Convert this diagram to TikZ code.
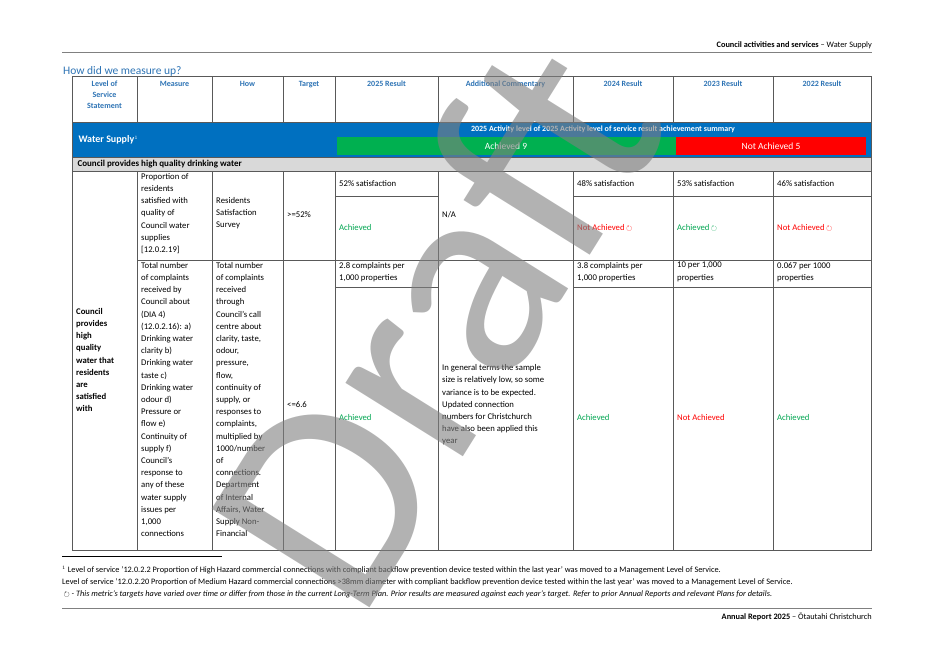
\documentclass[tikz,border=0pt]{standalone}
\usepackage{fontspec}
\usepackage{amssymb}
\setmainfont{Carlito}
\definecolor{hdblue}{HTML}{2E74B5}
\definecolor{bandblue}{HTML}{0070C0}
\definecolor{achgreen}{HTML}{00B050}
\definecolor{okgreen}{HTML}{00A651}
\tikzstyle{cell} = [anchor=north west, inner sep=2pt, align=left, font=\fontsize{8.7}{12.2}\selectfont]
\tikzstyle{head} = [anchor=north, inner sep=2pt, align=center, font=\fontsize{8}{11}\selectfont\bfseries, text=hdblue]
\tikzstyle{note} = [anchor=west, inner sep=0, font=\fontsize{8.3}{9}\selectfont]
\tikzstyle{grid} = [gray!70!black, line width=0.4pt]
\newcommand{\vary}{\,{\scriptsize$\circlearrowright$}}
\begin{document}
\begin{tikzpicture}[x=1pt,y=-1pt]
  \useasboundingbox (0,0) rectangle (934,661);
  \fill[white] (0,0) rectangle (934,661);
  % page header
  \node[anchor=south east, inner sep=0, font=\fontsize{8.3}{9}\selectfont] (pghead) at (872,49) {\textbf{Council activities and services} -- Water Supply};
  \draw[gray, line width=0.8pt] (62,52) -- (872,52);
  \node[anchor=south west, inner sep=0, font=\fontsize{11.5}{12}\selectfont, text=hdblue] (title) at (63,77) {How did we measure up?};
  % band
  \fill[bandblue] (72,122) rectangle (871,157);
  \fill[achgreen] (337,137) rectangle (676,155);
  \fill[red] (676,137) rectangle (866,155);
  \node[font=\fontsize{8}{9}\selectfont\bfseries, text=white] (summary) at (603,129.5) {2025 Activity level of 2025 Activity level of service result achievement summary};
  \node[font=\fontsize{9.5}{10}\selectfont, text=white] (ach) at (506,146) {Achieved 9};
  \node[font=\fontsize{9.5}{10}\selectfont, text=white] (notach) at (771,146) {Not Achieved 5};
  \node[anchor=west, font=\fontsize{10}{10}\selectfont\bfseries, text=white] (ws) at (75,140) {Water Supply$^{\scriptscriptstyle 1}$};
  \fill[gray!30] (72,157) rectangle (871,171);
  \node[anchor=west, font=\fontsize{9}{10}\selectfont\bfseries] (sect) at (74,164) {Council provides high quality drinking water};
  % grid
  \draw[grid] (72,76) rectangle (871,550);
  \foreach \x in {137,212,283,335,438,573,673,773} \draw[grid] (\x,76) -- (\x,122);
  \foreach \x in {137,212,283,335,438,573,673,773} \draw[grid] (\x,171) -- (\x,550);
  \draw[grid] (72,122) -- (871,122);
  \draw[grid] (72,157) -- (871,157);
  \draw[grid] (72,171) -- (871,171);
  \draw[grid] (137,260) -- (871,260);
  \draw[grid] (335,196) -- (438,196);
  \draw[grid] (573,196) -- (871,196);
  \draw[grid] (335,287) -- (438,287);
  \draw[grid] (573,287) -- (871,287);
  % header texts
  \node[head] (h1) at (104.5,79) {Level of\\Service\\Statement};
  \node[head] (h2) at (174.5,79) {Measure};
  \node[head] (h3) at (247.5,79) {How};
  \node[head] (h4) at (309,79) {Target};
  \node[head] (h5) at (386.5,79) {2025 Result};
  \node[head] (h6) at (505.5,79) {Additional Commentary};
  \node[head] (h7) at (623,79) {2024 Result};
  \node[head] (h8) at (723,79) {2023 Result};
  \node[head] (h9) at (822,79) {2022 Result};
  % row 1
  \node[cell] (m1) at (139,171) {Proportion of\\residents\\satisfied with\\quality of\\Council water\\supplies\\{[12.0.2.19]}};
  \node[cell] (w1) at (214,195) {Residents\\Satisfaction\\Survey};
  \node[cell, anchor=west] (t1) at (285,215) {>=52\%};
  \node[cell, anchor=west] (r1a) at (337,184) {52\% satisfaction};
  \node[cell, anchor=west, text=okgreen] (r1b) at (337,228) {Achieved};
  \node[cell, anchor=west] (c1) at (440,215) {N/A};
  \node[cell, anchor=west] (p1a) at (575,184) {48\% satisfaction};
  \node[cell, anchor=west, text=red] (p1b) at (575,228) {Not Achieved\vary};
  \node[cell, anchor=west] (q1a) at (675,184) {53\% satisfaction};
  \node[cell, anchor=west, text=okgreen] (q1b) at (675,228) {Achieved\vary};
  \node[cell, anchor=west] (s1a) at (775,184) {46\% satisfaction};
  \node[cell, anchor=west, text=red] (s1b) at (775,228) {Not Achieved\vary};
  % row 2
  \node[cell, anchor=west, font=\fontsize{8.7}{12.2}\selectfont\bfseries] (lvl) at (74,360) {Council\\provides\\high\\quality\\water that\\residents\\are\\satisfied\\with};
  \node[cell] (m2) at (139,260) {Total number\\of complaints\\received by\\Council about\\(DIA 4)\\(12.0.2.16): a)\\Drinking water\\clarity b)\\Drinking water\\taste c)\\Drinking water\\odour d)\\Pressure or\\flow e)\\Continuity of\\supply f)\\Council's\\response to\\any of these\\water supply\\issues per\\1,000\\connections};
  \node[cell] (w2) at (214,260) {Total number\\of complaints\\received\\through\\Council's call\\centre about\\clarity, taste,\\odour,\\pressure,\\flow,\\continuity of\\supply, or\\responses to\\complaints,\\multiplied by\\1000/number\\of\\connections.\\Department\\of Internal\\Affairs, Water\\Supply Non-\\Financial};
  \node[cell, anchor=west] (t2) at (285,405) {<=6.6};
  \node[cell] (r2a) at (337,260) {2.8 complaints per\\1,000 properties};
  \node[cell, anchor=west, text=okgreen] (r2b) at (337,418) {Achieved};
  \node[cell, anchor=west] (c2) at (440,405) {In general terms the sample\\size is relatively low, so some\\variance is to be expected.\\Updated connection\\numbers for Christchurch\\have also been applied this\\year};
  \node[cell] (p2a) at (575,260) {3.8 complaints per\\1,000 properties};
  \node[cell, anchor=west, text=okgreen] (p2b) at (575,418) {Achieved};
  \node[cell] (q2a) at (675,260) {10 per 1,000\\properties};
  \node[cell, anchor=west, text=red] (q2b) at (675,418) {Not Achieved};
  \node[cell] (s2a) at (775,260) {0.067 per 1000\\properties};
  \node[cell, anchor=west, text=okgreen] (s2b) at (775,418) {Achieved};
  % footnotes
  \draw[black, line width=0.4pt] (62,556) -- (222,556);
  \node[note] (fn1) at (62,570) {$^{\scriptscriptstyle 1}$ Level of service '12.0.2.2 Proportion of High Hazard commercial connections with compliant backflow prevention device tested within the last year' was moved to a Management Level of Service.};
  \node[note] (fn2) at (62,582) {Level of service '12.0.2.20 Proportion of Medium Hazard commercial connections >38mm diameter with compliant backflow prevention device tested within the last year' was moved to a Management Level of Service.};
  \node[note, font=\fontsize{8.3}{9}\selectfont\itshape] (fn3) at (62,594) {{\upshape\vary} - This metric's targets have varied over time or differ from those in the current Long-Term Plan. Prior results are measured against each year's target. Refer to prior Annual Reports and relevant Plans for details.};
  \draw[gray, line width=0.8pt] (62,608) -- (872,608);
  \node[anchor=north east, inner sep=0, font=\fontsize{8.3}{9}\selectfont] (pgfoot) at (872,613) {\textbf{Annual Report 2025} -- Ōtautahi Christchurch};
  % watermark
  \node[rotate=58, text=gray, opacity=0.6, font=\fontsize{290}{290}\selectfont] (draft) at (432,322) {Draft};
\end{tikzpicture}
\end{document}
